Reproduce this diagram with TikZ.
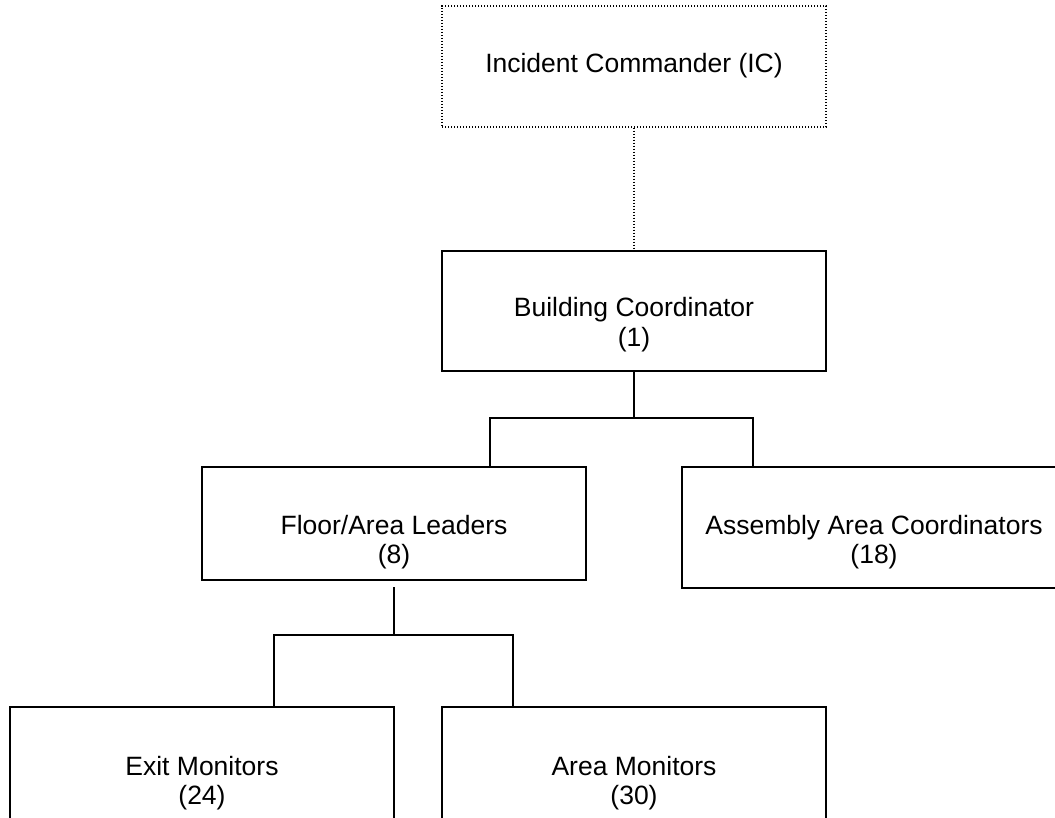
\documentclass[tikz,border=0pt]{standalone}
\usepackage{fontspec}
\setmainfont{Liberation Sans}
\begin{document}
\begin{tikzpicture}[x=1pt,y=1pt,
  box/.style={draw=black, line width=1.8pt, minimum width=384pt, inner sep=0pt, fill=white},
  dotbox/.style={draw=black, line width=1.4pt, dash pattern=on 1.4pt off 1.6pt, minimum width=384pt, inner sep=0pt},
  conn/.style={draw=black, line width=1.8pt},
  dotconn/.style={draw=black, line width=1.4pt, dash pattern=on 1.4pt off 1.6pt},
  lbl/.style={anchor=base, inner sep=0pt, font=\fontsize{26.5}{30}\selectfont}
]
\clip (0,0) rectangle (1055,-818);
\fill[white] (0,0) rectangle (1055,-818);
% boxes
\node[dotbox, minimum height=121pt] (ic) at (634,-66.5) {};
\node[box, minimum height=120pt] (bc) at (634,-311) {};
\node[box, minimum height=113pt] (fl) at (394,-523.5) {};
\node[box, minimum height=121pt] (aa) at (874,-527.5) {};
\node[box, minimum height=121pt] (ex) at (202,-767.5) {};
\node[box, minimum height=121pt] (ar) at (634,-767.5) {};
% labels
\node[lbl] (ict) at (634,-73) {Incident Commander (IC)};
\node[lbl] (bct1) at (634,-317) {Building Coordinator};
\node[lbl] (bct2) at (634,-347) {(1)};
\node[lbl] (flt1) at (394,-534) {Floor/Area Leaders};
\node[lbl] (flt2) at (394,-563) {(8)};
\node[lbl] (aat1) at (874,-534) {Assembly Area Coordinators};
\node[lbl] (aat2) at (874,-563) {(18)};
\node[lbl] (ext1) at (202,-775) {Exit Monitors};
\node[lbl] (ext2) at (202,-804) {(24)};
\node[lbl] (art1) at (634,-775) {Area Monitors};
\node[lbl] (art2) at (634,-804) {(30)};
% connectors
\coordinate (j1) at (634,-418);
\coordinate (fs) at (394,-587);
\coordinate (j2) at (394,-635);
\draw[dotconn] (ic.south) -- (bc.north);
\draw[conn] (bc.south) -- (j1);
\draw[conn] ([xshift=96pt]fl.north) |- (j1) -| ([xshift=-121pt]aa.north);
\draw[conn] (fs) -- (j2);
\draw[conn] ([xshift=72pt]ex.north) |- (j2) -| ([xshift=-121pt]ar.north);
\end{tikzpicture}
\end{document}
